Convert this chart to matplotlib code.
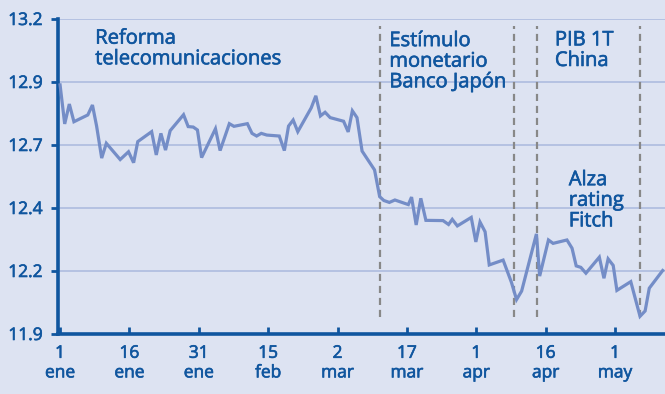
import matplotlib.pyplot as plt
import matplotlib.patheffects as pe
from matplotlib.ticker import FixedLocator, FormatStrFormatter

# Days counted from 1 Jan and the USD/MXN rate on those days
days = [0, 1, 2, 3, 6, 7, 7.9, 9, 10, 13, 14.8, 15.9, 16.8, 19.8, 20.8, 21.8,
        22.8, 23.8, 26.7, 27.7, 28.8, 29.7, 30.6, 33.6, 34.6, 36.6, 37.6, 40.5,
        41.5, 42.5, 43.5, 44.7, 47.4, 48.5, 49.4, 50.4, 51.4, 54.3, 55.3, 56.3,
        57.3, 58.4, 61.3, 62.3, 63.2, 64.2, 65.3, 68.0, 69.1, 70.0, 71.2, 72.4,
        75.3, 76.0, 77.0, 78.0, 79.1, 82.8, 84.0, 84.8, 85.9, 88.9, 89.9, 90.8,
        91.9, 92.8, 95.8, 97.6, 98.7, 99.8, 103.0, 103.7, 105.6, 106.6, 109.6,
        110.7, 111.6, 112.6, 113.7, 116.6, 117.6, 118.5, 119.6, 120.4, 123.4,
        125.4, 126.5, 127.4, 130.3]
rate = [12.928, 12.767, 12.849, 12.776, 12.804, 12.845, 12.758, 12.626, 12.687,
        12.620, 12.652, 12.607, 12.694, 12.735, 12.639, 12.728, 12.659, 12.739,
        12.805, 12.756, 12.754, 12.742, 12.628, 12.747, 12.657, 12.768, 12.757,
        12.768, 12.728, 12.717, 12.728, 12.721, 12.717, 12.657, 12.758, 12.783,
        12.735, 12.833, 12.883, 12.800, 12.815, 12.793, 12.778, 12.734, 12.821,
        12.793, 12.655, 12.577, 12.467, 12.451, 12.443, 12.453, 12.434, 12.465,
        12.350, 12.460, 12.369, 12.368, 12.352, 12.373, 12.346, 12.381, 12.280,
        12.362, 12.322, 12.185, 12.205, 12.113, 12.042, 12.077, 12.313, 12.139,
        12.288, 12.274, 12.288, 12.254, 12.181, 12.175, 12.151, 12.217, 12.130,
        12.210, 12.183, 12.080, 12.116, 11.973, 11.995, 12.089, 12.162]

tick_days = [0, 15, 30, 45, 60, 75, 90, 105, 120]
tick_labels = ['1\nene', '16\nene', '31\nene', '15\nfeb', '2\nmar',
               '17\nmar', '1\napr', '16\napr', '1\nmay']
y_ticks = [11.9, 12.16, 12.42, 12.68, 12.94, 13.2]

# Events: day of the dashed line, label, label position (day, rate)
event_days = [69.2, 98.2, 103.1, 125.4]
notes = ['Reforma\ntelecomunicaciones', 'Estímulo\nmonetario\nBanco Japón',
         'PIB 1T\nChina', 'Alza\nrating\nFitch']
note_x = [7.6, 71.2, 107.0, 110.0]
note_y = [13.16, 13.15, 13.153, 12.576]

BG = '#dde3f2'
BLUE = '#10569f'
LINE = '#748dc7'
GRID = '#aab9de'

plt.rcParams['font.family'] = ['Open Sans', 'DejaVu Sans']

# slightly heavier strokes for all the text
heavy = [pe.withStroke(linewidth=0.45, foreground=BLUE)]

fig = plt.figure(figsize=(6.65, 3.94), dpi=100, facecolor=BG)
ax = fig.add_axes([0.0872, 0.1523, 0.9128, 0.7995], facecolor=BG)

ax.plot(days, rate, color=LINE, lw=2.3, solid_joinstyle='miter', zorder=3)

for d in event_days:
    ax.plot([d, d], [11.97, 13.17], color='#888888', lw=1.6,
            dashes=(3.2, 2.2), zorder=2)

for txt, x, y in zip(notes, note_x, note_y):
    ax.text(x, y, txt, color=BLUE, fontsize=14.5, va='top', ha='left',
            linespacing=1.04, zorder=4, path_effects=heavy)

ax.set_xlim(-0.45, 130.8)
ax.set_ylim(11.9, 13.2)
ax.yaxis.set_major_locator(FixedLocator(y_ticks))
ax.yaxis.set_major_formatter(FormatStrFormatter('%.1f'))
ax.set_xticks(tick_days)
ax.set_xticklabels(tick_labels, linespacing=1.3)
for lab in ax.get_xticklabels() + ax.get_yticklabels():
    lab.set_path_effects(heavy)

ax.grid(axis='y', color=GRID, lw=1.1, zorder=1)
ax.set_axisbelow(True)

for side in ['top', 'right']:
    ax.spines[side].set_visible(False)
for side in ['left', 'bottom']:
    ax.spines[side].set_color(BLUE)
    ax.spines[side].set_linewidth(2.6)

ax.tick_params(axis='y', direction='out', length=5, width=2, color=BLUE,
               labelcolor=BLUE, labelsize=12.5, pad=6)
ax.tick_params(axis='x', direction='in', length=5, width=2, color=BLUE,
               labelcolor=BLUE, labelsize=12.5, pad=8.5)

fig.savefig('out.png', dpi=100, facecolor=BG)
